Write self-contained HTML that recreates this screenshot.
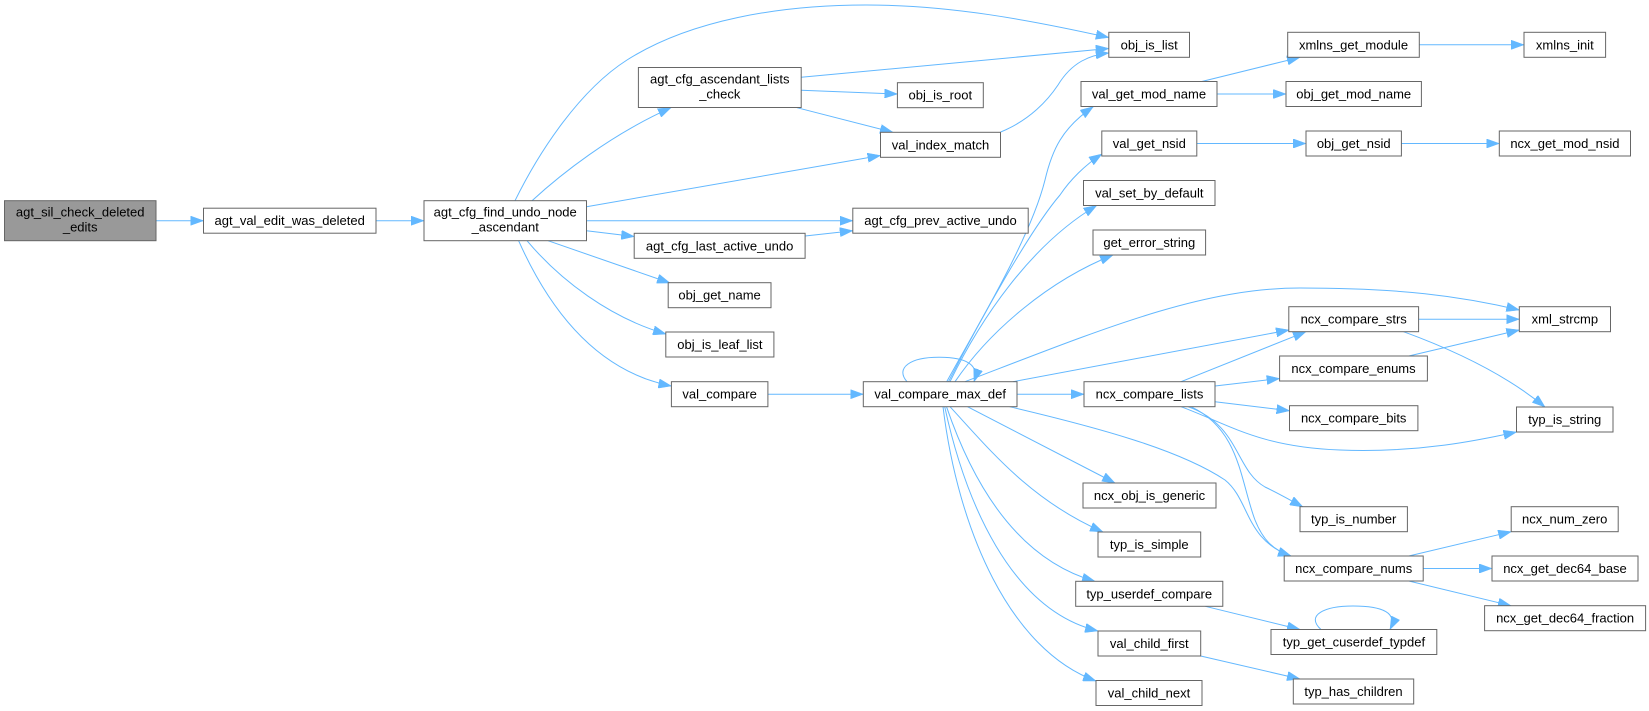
<!DOCTYPE html>
<html><head><meta charset="utf-8"><style>
html,body{margin:0;padding:0;background:#fff;}
svg{display:block;}
text{font-family:"Liberation Sans",Arial,sans-serif;font-size:13px;fill:#000;text-anchor:middle;}
.n{fill:#fff;stroke:#666;stroke-width:1;}
.r{fill:#999;stroke:#666;stroke-width:1;}
.e{fill:none;stroke:#63b8ff;stroke-width:1;marker-end:url(#a);}
</style></head><body>
<svg width="1649" height="711" viewBox="0 0 1649 711" xmlns="http://www.w3.org/2000/svg">
<defs>
<marker id="a" markerUnits="userSpaceOnUse" viewBox="0 0 13 9.4" refX="13" refY="4.7" markerWidth="13" markerHeight="9.4" orient="auto">
<path d="M0,0 L13,4.7 L0,9.4 z" fill="#63b8ff" stroke="#63b8ff" stroke-width="0.5"/>
</marker>
</defs>

<!-- edges -->
<path class="e" d="M156,220.7 L203.5,220.7"/>
<path class="e" d="M376,220.7 L424,220.7"/>
<path class="e" d="M515,200.7 C540,150 580,90 627,60 C690,20 780,5 866,5 C950,5 1030,20 1108.8,37.5"/>
<path class="e" d="M532,200.7 C560,175 610,135 671,107.7"/>
<path class="e" d="M586.5,206.7 L880.5,155.5"/>
<path class="e" d="M586.5,220.7 L852.8,220.7"/>
<path class="e" d="M586.5,230.7 L634.2,236.5"/>
<path class="e" d="M548,240.7 L670,283"/>
<path class="e" d="M527,240.7 C560,280 610,318 666,334"/>
<path class="e" d="M518.6,240.7 C545,300 590,370 671.4,386"/>
<path class="e" d="M801.2,77.3 L1108.8,48.5"/>
<path class="e" d="M801.2,90.3 L897.4,94"/>
<path class="e" d="M797,107.7 L893,132.3"/>
<path class="e" d="M1000.7,132 C1030,120 1048,100 1058,85 C1072,62 1090,55 1108.8,53"/>
<path class="e" d="M805.1,236 L852.8,230.7"/>
<path class="e" d="M767.9,394.2 L863.3,394.2"/>
<path class="e" d="M907,381.7 C895,368 910,357 940,357.3 C965,357.5 980,364 974,381.7"/>
<path class="e" d="M946.7,381.7 C975,330 1030,240 1045,180 C1052,150 1062,128 1093.3,106.7"/>
<path class="e" d="M948.5,381.7 C980,320 1030,230 1060,195 C1070,180 1085,165 1102,154"/>
<path class="e" d="M950,381.7 C980,320 1030,245 1096.7,205.5"/>
<path class="e" d="M955,381.7 C990,330 1050,280 1113,255"/>
<path class="e" d="M965,381.7 C1100,330 1200,288 1300,288 C1400,288 1460,296 1519.3,310"/>
<path class="e" d="M1013,381.7 L1289,330"/>
<path class="e" d="M1017,394.2 L1084,394.2"/>
<path class="e" d="M1181,381.7 L1306,331.7"/>
<path class="e" d="M1418.6,319.2 L1519.3,319.2"/>
<path class="e" d="M1403.5,331.7 C1440,345 1500,370 1545,407"/>
<path class="e" d="M1408.8,356 L1519.3,330"/>
<path class="e" d="M1215,386 L1279.6,378.5"/>
<path class="e" d="M1215,401.7 L1289.5,410.7"/>
<path class="e" d="M1181,406.7 C1230,425 1260,447 1340,450 C1420,453 1480,440 1516.5,432"/>
<path class="e" d="M1188,406.7 C1240,425 1235,470 1265,487 C1278,493 1290,500 1303,507"/>
<path class="e" d="M1191,406.7 C1240,430 1240,480 1255,520 C1263,540 1273,550 1291,556"/>
<path class="e" d="M1009.6,406.7 C1100,428 1180,450 1225,480 C1250,500 1245,540 1291,556"/>
<path class="e" d="M967.5,406.7 L1115,483"/>
<path class="e" d="M950,406.7 C990,450 1030,500 1103,532"/>
<path class="e" d="M946.5,406.7 C975,490 1020,560 1095,581.3"/>
<path class="e" d="M944.7,406.7 C965,500 1010,610 1098,631"/>
<path class="e" d="M943,406.7 C958,530 1010,650 1096,681"/>
<path class="e" d="M1201.8,81.5 L1300,57.3"/>
<path class="e" d="M1217,94 L1286,94"/>
<path class="e" d="M1419.3,44.8 L1524,44.8"/>
<path class="e" d="M1196.8,143.5 L1306,143.5"/>
<path class="e" d="M1401.4,143.5 L1499.3,143.5"/>
<path class="e" d="M1408.8,556 L1511.2,531.7"/>
<path class="e" d="M1423.2,568.5 L1492,568.5"/>
<path class="e" d="M1408.8,581 L1511,605.7"/>
<path class="e" d="M1205.3,606.3 L1300,629.5"/>
<path class="e" d="M1321,629.5 C1305,615 1325,606 1353,606 C1383,606 1398,613 1390,629.5"/>
<path class="e" d="M1200.7,656 L1300,679"/>

<!-- nodes -->
<rect class="r" x="4.5" y="200.7" width="151.5" height="40"/>
<text x="80.2" y="216.7">agt_sil_check_deleted</text><text x="80.2" y="231.7">_edits</text>

<rect class="n" x="203.5" y="208.2" width="172.5" height="25"/>
<text x="289.7" y="225.2">agt_val_edit_was_deleted</text>

<rect class="n" x="424" y="200.7" width="162.5" height="40"/>
<text x="505.2" y="216.7">agt_cfg_find_undo_node</text><text x="505.2" y="231.7">_ascendant</text>

<rect class="n" x="638.4" y="67.5" width="162.8" height="40"/>
<text x="719.8" y="83.5">agt_cfg_ascendant_lists</text><text x="719.8" y="98.5">_check</text>

<rect class="n" x="897.4" y="82.7" width="85.9" height="25"/>
<text x="940.3" y="99.7">obj_is_root</text>

<rect class="n" x="880.5" y="132.3" width="120" height="25"/>
<text x="940.5" y="149.3">val_index_match</text>

<rect class="n" x="852.8" y="208.2" width="175.4" height="25"/>
<text x="940.5" y="225.2">agt_cfg_prev_active_undo</text>

<rect class="n" x="634.2" y="233.3" width="170.9" height="25"/>
<text x="719.6" y="250.3">agt_cfg_last_active_undo</text>

<rect class="n" x="668.2" y="282.7" width="102.8" height="25"/>
<text x="719.6" y="299.7">obj_get_name</text>

<rect class="n" x="665.8" y="332" width="108.1" height="25"/>
<text x="719.9" y="349">obj_is_leaf_list</text>

<rect class="n" x="671.4" y="381.7" width="96.5" height="25"/>
<text x="719.6" y="398.7">val_compare</text>

<rect class="n" x="863.3" y="381.7" width="153.7" height="25"/>
<text x="940.2" y="398.7">val_compare_max_def</text>

<rect class="n" x="1108.8" y="32.3" width="80.7" height="25"/>
<text x="1149.2" y="49.3">obj_is_list</text>

<rect class="n" x="1081" y="81.5" width="136" height="25"/>
<text x="1149" y="98.5">val_get_mod_name</text>

<rect class="n" x="1101.8" y="131" width="95" height="25"/>
<text x="1149.3" y="148">val_get_nsid</text>

<rect class="n" x="1083.5" y="180.5" width="131.5" height="25"/>
<text x="1149.3" y="197.5">val_set_by_default</text>

<rect class="n" x="1093" y="230" width="112.6" height="25"/>
<text x="1149.3" y="247">get_error_string</text>

<rect class="n" x="1084" y="381.7" width="131" height="25"/>
<text x="1149.5" y="398.7">ncx_compare_lists</text>

<rect class="n" x="1083" y="483" width="133" height="25"/>
<text x="1149.5" y="500">ncx_obj_is_generic</text>

<rect class="n" x="1098" y="532" width="102.7" height="25"/>
<text x="1149.3" y="549">typ_is_simple</text>

<rect class="n" x="1075.7" y="581.3" width="147.1" height="25"/>
<text x="1149.2" y="598.3">typ_userdef_compare</text>

<rect class="n" x="1098" y="631" width="102.7" height="25"/>
<text x="1149.3" y="648">val_child_first</text>

<rect class="n" x="1096" y="680.5" width="106" height="25"/>
<text x="1149" y="697.5">val_child_next</text>

<rect class="n" x="1287.7" y="32.3" width="131.6" height="25"/>
<text x="1353.5" y="49.3">xmlns_get_module</text>

<rect class="n" x="1286" y="81.5" width="135.4" height="25"/>
<text x="1353.7" y="98.5">obj_get_mod_name</text>

<rect class="n" x="1306" y="131" width="95.4" height="25"/>
<text x="1353.7" y="148">obj_get_nsid</text>

<rect class="n" x="1288.8" y="306.7" width="129.8" height="25"/>
<text x="1353.7" y="323.7">ncx_compare_strs</text>

<rect class="n" x="1279.6" y="356" width="147.8" height="25"/>
<text x="1353.5" y="373">ncx_compare_enums</text>

<rect class="n" x="1289.5" y="405.7" width="128.4" height="25"/>
<text x="1353.7" y="422.7">ncx_compare_bits</text>

<rect class="n" x="1300" y="506.7" width="107.4" height="25"/>
<text x="1353.7" y="523.7">typ_is_number</text>

<rect class="n" x="1284.2" y="556" width="139" height="25"/>
<text x="1353.7" y="573">ncx_compare_nums</text>

<rect class="n" x="1271" y="629.5" width="165.8" height="25"/>
<text x="1353.9" y="646.5">typ_get_cuserdef_typdef</text>

<rect class="n" x="1293.3" y="679" width="120.4" height="25"/>
<text x="1353.5" y="696">typ_has_children</text>

<rect class="n" x="1524" y="32.3" width="81.6" height="25"/>
<text x="1564.8" y="49.3">xmlns_init</text>

<rect class="n" x="1499.3" y="131" width="131.2" height="25"/>
<text x="1564.9" y="148">ncx_get_mod_nsid</text>

<rect class="n" x="1519.3" y="306.7" width="91.2" height="25"/>
<text x="1564.9" y="323.7">xml_strcmp</text>

<rect class="n" x="1516.5" y="407" width="96.5" height="25"/>
<text x="1564.8" y="424">typ_is_string</text>

<rect class="n" x="1511.2" y="506.7" width="107" height="25"/>
<text x="1564.7" y="523.7">ncx_num_zero</text>

<rect class="n" x="1492" y="556" width="146" height="25"/>
<text x="1565" y="573">ncx_get_dec64_base</text>

<rect class="n" x="1484.6" y="605.7" width="161" height="25"/>
<text x="1565.1" y="622.7">ncx_get_dec64_fraction</text>
</svg>
</body></html>
